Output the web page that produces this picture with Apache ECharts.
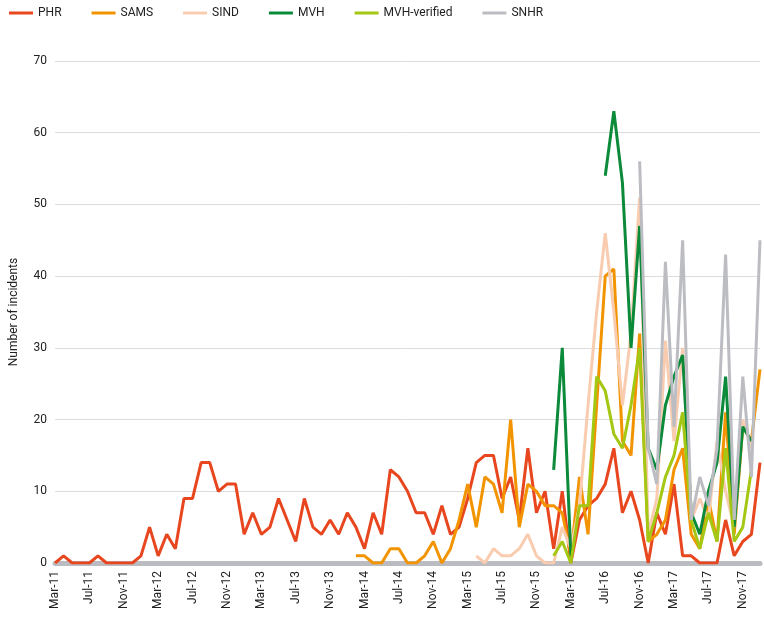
<!DOCTYPE html><html><head><meta charset="utf-8"><script src="https://cdn.jsdelivr.net/npm/echarts@6/dist/echarts.min.js"></script>
<style>body{margin:0}#c{width:764px;height:633px}</style></head><body><div id="c"></div><script>
const mon=['Jan','Feb','Mar','Apr','May','Jun','Jul','Aug','Sep','Oct','Nov','Dec'];
const categories=[];for(let i=0;i<83;i++){const m=(2+i)%12,y=11+Math.floor((2+i)/12);categories.push(mon[m]+'-'+y);}
const N=null;
const PHR=[0,1,0,0,0,1,0,0,0,0,1,5,1,4,2,9,9,14,14,10,11,11,4,7,4,5,9,6,3,9,5,4,6,4,7,5,2,7,4,13,12,10,7,7,4,8,4,5,9,14,15,15,9,12,6,16,7,10,2,10,0,6,8,9,11,16,7,10,6,0,7,4,11,1,1,0,0,0,6,1,3,4,14];
const SAMS=[N,N,N,N,N,N,N,N,N,N,N,N,N,N,N,N,N,N,N,N,N,N,N,N,N,N,N,N,N,N,N,N,N,N,N,1,1,0,0,2,2,0,0,1,3,0,2,6,11,5,12,11,7,20,5,11,10,8,8,7,1,12,4,22,40,41,17,15,32,3,4,6,13,16,4,2,9,3,21,4,19,17,27];
const SIND=[N,N,N,N,N,N,N,N,N,N,N,N,N,N,N,N,N,N,N,N,N,N,N,N,N,N,N,N,N,N,N,N,N,N,N,N,N,N,N,N,N,N,N,N,N,N,N,N,N,1,0,2,1,1,2,4,1,0,0,5,2,8,22,35,46,35,22,32,51,4,9,31,17,30,6,9,6,17,10,5,20,16,N];
const MVH=[N,N,N,N,N,N,N,N,N,N,N,N,N,N,N,N,N,N,N,N,N,N,N,N,N,N,N,N,N,N,N,N,N,N,N,N,N,N,N,N,N,N,N,N,N,N,N,N,N,N,N,N,N,N,N,N,N,N,13,30,1,N,N,N,54,63,53,30,47,16,13,22,26,29,7,4,10,14,26,5,19,17,N];
const MVHV=[N,N,N,N,N,N,N,N,N,N,N,N,N,N,N,N,N,N,N,N,N,N,N,N,N,N,N,N,N,N,N,N,N,N,N,N,N,N,N,N,N,N,N,N,N,N,N,N,N,N,N,N,N,N,N,N,N,N,1,3,0,8,8,26,24,18,16,22,30,3,7,12,15,21,6,2,7,3,16,3,5,13,N];
const SNHR=[N,N,N,N,N,N,N,N,N,N,N,N,N,N,N,N,N,N,N,N,N,N,N,N,N,N,N,N,N,N,N,N,N,N,N,N,N,N,N,N,N,N,N,N,N,N,N,N,N,N,N,N,N,N,N,N,N,N,N,N,N,N,N,N,N,N,N,N,56,16,11,42,19,45,6,12,8,16,43,6,26,12,45];
const names=['PHR','SAMS','SIND','MVH','MVH-verified','SNHR'];
const colors=['#e8461e','#f29400','#f9ccb0','#0b8a3a','#a3c712','#bcbdc3'];
const datas=[PHR,SAMS,SIND,MVH,MVHV,SNHR];
const ch=echarts.init(document.getElementById('c'));
ch.setOption({animation:false,color:colors,
legend:{left:4,top:2,itemWidth:24,itemHeight:3,itemGap:30,icon:'rect',textStyle:{fontFamily:'Roboto',fontSize:12,color:'#222'},data:names},
grid:{left:50,right:4,top:61,bottom:70},
xAxis:{type:'category',data:categories,boundaryGap:false,
 axisLine:{lineStyle:{color:'#bbbcc2',width:5}},axisTick:{show:false},
 axisLabel:{rotate:90,interval:3,fontFamily:'Roboto',fontSize:12,color:'#222',margin:8}},
yAxis:{type:'value',min:0,max:70,interval:10,name:'Number of incidents',nameLocation:'middle',nameGap:35,nameTextStyle:{fontFamily:'Roboto',fontSize:12,color:'#222'},
 axisLabel:{fontFamily:'Roboto',fontSize:12,color:'#222'},splitLine:{lineStyle:{color:'#dcdcdc'}},axisLine:{show:false}},
series:datas.map((d,i)=>({name:names[i],type:'line',data:d,symbol:'none',lineStyle:{width:3,color:colors[i]},connectNulls:false}))
});
</script></body></html>
